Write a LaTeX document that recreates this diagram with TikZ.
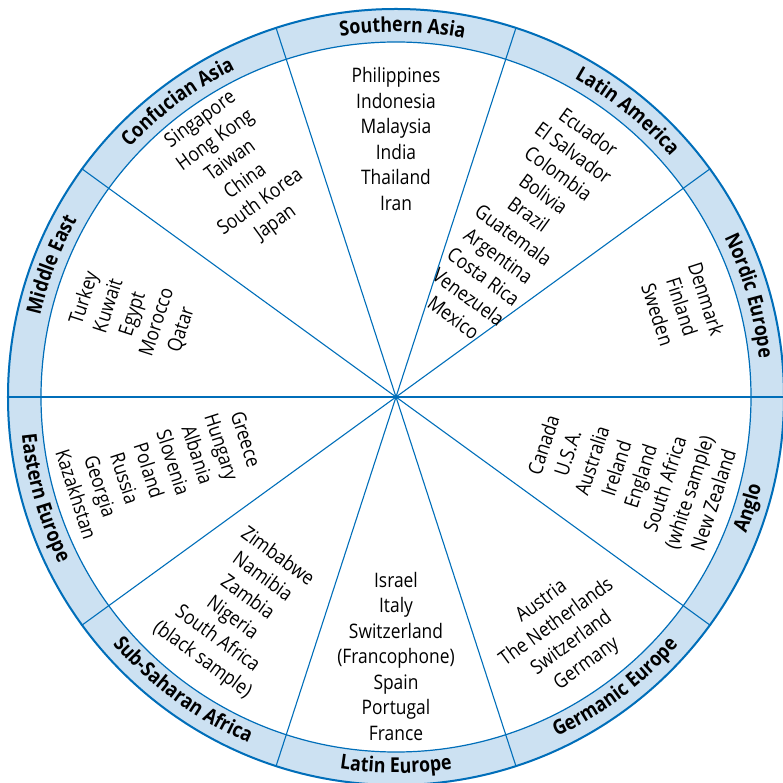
\documentclass[tikz,border=0pt]{standalone}
\usepackage{fontspec}
\setmainfont{Open Sans}[FakeStretch=0.87]
\usetikzlibrary{decorations.text}
\definecolor{ringblue}{RGB}{0,110,185}
\definecolor{ringfill}{RGB}{204,225,242}
\newcommand\cfont{\fontsize{20}{25.5}\selectfont}
\newcommand\rfont{\fontsize{20.5}{24}\selectfont\bfseries}
\newcommand\toplabel[2]{\path[decorate, decoration={text along path, text={|\rfont|#2}, text align=center}] ({#1+25}:365pt) arc[start angle={#1+25}, end angle={#1-25}, radius=365pt];}
\newcommand\botlabel[2]{\path[decorate, decoration={text along path, text={|\rfont|#2}, text align=center}] ({#1-25}:376pt) arc[start angle={#1-25}, end angle={#1+25}, radius=376pt];}
\tikzset{country/.style={align=center, font=\cfont, inner sep=0pt, text=black}}
\begin{document}
\begin{tikzpicture}
\useasboundingbox (-396pt,-386pt) rectangle (387pt,397pt);
\coordinate (c) at (0,0);
\fill[ringfill, even odd rule] (c) circle[radius=389pt] (c) circle[radius=355pt];
\draw[ringblue, line width=1.2pt] (c) circle[radius=355pt];
\draw[ringblue, line width=2pt] (c) circle[radius=388pt];
\foreach \a in {0,36,...,324} {
  \coordinate (e\a) at (\a:389pt);
  \draw[ringblue, line width=1.1pt] (c) -- (e\a);
}
% ring labels
\toplabel{89}{Southern Asia}
\toplabel{51}{Latin America}
\toplabel{16}{Nordic Europe}
\toplabel{126.5}{Confucian Asia}
\toplabel{159}{Middle East}
\botlabel{342.5}{Anglo}
\botlabel{307}{Germanic Europe}
\botlabel{270}{Latin Europe}
\botlabel{234}{Sub-Saharan Africa}
\botlabel{196}{Eastern Europe}
% countries
\node[country] (sas) at (90:258pt) {Philippines\\Indonesia\\Malaysia\\India\\Thailand\\Iran};
\node[country, rotate=-36] (lam) at (54:213pt) {Ecuador\\El Salvador\\Colombia\\Bolivia\\Brazil\\Guatemala\\Argentina\\Costa Rica\\Venezuela\\Mexico};
\node[country, rotate=-72] (nor) at (17.5:300pt) {Denmark\\Finland\\Sweden};
\node[country, rotate=72] (ang) at (342:244pt) {Canada\\U.S.A.\\Australia\\Ireland\\England\\South Africa\\(white sample)\\New Zealand};
\node[country, rotate=36] (ger) at (305.5:290pt) {Austria\\The Netherlands\\Switzerland\\Germany};
\node[country] (lat) at (270:259pt) {Israel\\Italy\\Switzerland\\(Francophone)\\Spain\\Portugal\\France};
\node[country, rotate=-36] (ssa) at (233.5:263pt) {Zimbabwe\\Namibia\\Zambia\\Nigeria\\South Africa\\(black sample)};
\node[country, rotate=-72] (eas) at (196.5:245pt) {Greece\\Hungary\\Albania\\Slovenia\\Poland\\Russia\\Georgia\\Kazakhstan};
\node[country, rotate=72] (mid) at (162.5:276pt) {Turkey\\Kuwait\\Egypt\\Morocco\\Qatar};
\node[country, rotate=36] (con) at (125:275pt) {Singapore\\Hong Kong\\Taiwan\\China\\South Korea\\Japan};
\end{tikzpicture}
\end{document}
